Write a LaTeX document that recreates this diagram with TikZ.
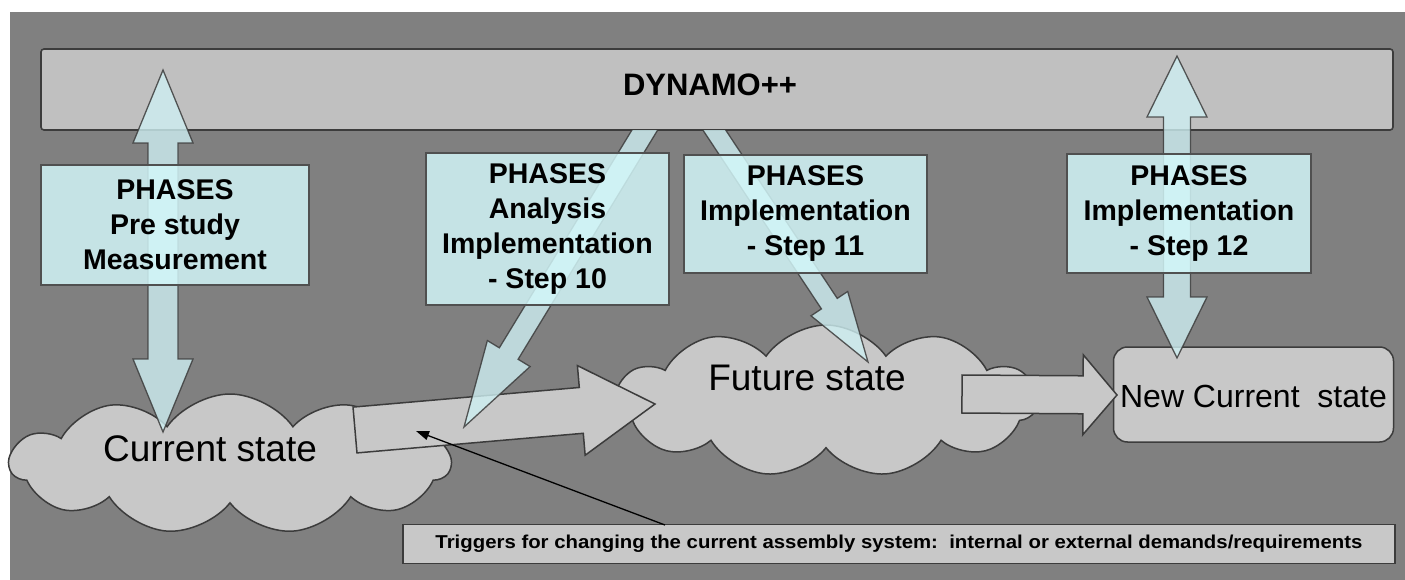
\documentclass[tikz,border=0pt]{standalone}
\usepackage{fontspec}
\setmainfont{Liberation Sans}
\usetikzlibrary{calc,shapes.symbols,arrows.meta}
\definecolor{bggray}{RGB}{128,128,128}
\definecolor{bargray}{RGB}{192,192,192}
\definecolor{cloudgray}{RGB}{200,200,200}
\definecolor{edgegray}{RGB}{60,60,60}
\definecolor{boxcyan}{RGB}{211,247,249}
\definecolor{arrcyan}{RGB}{206,239,242}
\newcommand\blockarrow[6]{%
  \coordinate (baC) at ($(#3)!#6!(#2)$);
  \path[#1] ($(#2)!#4!90:(#3)$) -- ($(baC)!#4!90:(#3)$) -- ($(baC)!#5!90:(#3)$) -- (#3)
    -- ($(baC)!#5!-90:(#3)$) -- ($(baC)!#4!-90:(#3)$) -- ($(#2)!#4!-90:(#3)$) -- cycle;}
\newcommand\dblarrow[6]{%
  \coordinate (daC) at ($(#3)!#6!(#2)$);
  \coordinate (daD) at ($(#2)!#6!(#3)$);
  \path[#1] (#2) -- ($(daD)!#5!90:(#3)$) -- ($(daD)!#4!90:(#3)$) -- ($(daC)!#4!90:(#3)$)
    -- ($(daC)!#5!90:(#3)$) -- (#3) -- ($(daC)!#5!-90:(#3)$) -- ($(daC)!#4!-90:(#3)$)
    -- ($(daD)!#4!-90:(#3)$) -- ($(daD)!#5!-90:(#3)$) -- cycle;}
\tikzset{
  bar/.style={draw=edgegray, line width=1.6pt, fill=bargray, rounded corners=3pt, inner sep=0pt},
  cloudnode/.style={cloud, cloud puffs=11, cloud puff arc=110, cloud ignores aspect,
    draw=edgegray, line width=1.5pt, fill=cloudgray, inner sep=0pt},
  statebox/.style={draw=edgegray, line width=1.5pt, fill=cloudgray, rounded corners=14pt, inner sep=0pt},
  phasebox/.style={draw=edgegray!90, line width=1.4pt, fill=boxcyan, fill opacity=0.84, text opacity=1,
    inner sep=0pt, align=center, font=\bfseries\fontsize{28.5}{35}\selectfont},
  cyanarrow/.style={draw=edgegray, line width=1.3pt, fill=arrcyan, fill opacity=0.8, draw opacity=0.85},
  grayarrow/.style={draw=edgegray, line width=1.5pt, fill=cloudgray},
  statetxt/.style={inner sep=0pt, font=\fontsize{37}{40}\selectfont},
  trigbox/.style={draw=edgegray, line width=1.6pt, fill=cloudgray, inner sep=0pt},
}
\begin{document}
\begin{tikzpicture}[x=1pt,y=-1pt]
\useasboundingbox (0,0) rectangle (1405,580);
\fill[white] (0,0) rectangle (1405,580);
\fill[bggray] (10,12) rectangle (1405,580);
% top bar
\node[bar, minimum width=1352pt, minimum height=81pt] (dyn) at (717,89.5) {};
\node[inner sep=0pt, font=\bfseries\fontsize{31}{35}\selectfont] (dyntxt) at (710,85) {DYNAMO++};
% clouds
\node[cloudnode, minimum width=440pt, minimum height=140pt] (curcloud) at (230,464) {};
\node[cloudnode, minimum width=422pt, minimum height=152pt] (futcloud) at (826,401) {};
\node[statebox, minimum width=280pt, minimum height=95pt] (newbox) at (1253.5,394.5) {};
% gray block arrows
\coordinate (g1a) at (355,430);
\coordinate (g1b) at (655,404);
\blockarrow{grayarrow}{g1a}{g1b}{23pt}{45pt}{74pt}
\coordinate (g2a) at (962,394);
\coordinate (g2b) at (1117,395);
\blockarrow{grayarrow}{g2a}{g2b}{19pt}{40pt}{34pt}
% state texts
\node[statetxt] (curtxt) at (210,448.5) {Current state};
\node[statetxt] (futtxt) at (807,377.5) {Future state};
\node[statetxt, font=\fontsize{32}{36}\selectfont] (newtxt) at (1253.5,396) {New Current~ state};
% cyan arrows
\coordinate (a1t) at (163,70);
\coordinate (a1b) at (163,432);
\dblarrow{cyanarrow}{a1t}{a1b}{15pt}{30pt}{73pt}
\coordinate (a4t) at (1177,56);
\coordinate (a4b) at (1177,358);
\dblarrow{cyanarrow}{a4t}{a4b}{13.5pt}{30pt}{61pt}
\begin{scope}
\clip (10,130.8) rectangle (1405,580);
\coordinate (a2s) at (657,110);
\coordinate (a2e) at (464,427);
\blockarrow{cyanarrow}{a2s}{a2e}{11pt}{25pt}{86pt}
\coordinate (a3s) at (701,110);
\coordinate (a3e) at (868,362);
\blockarrow{cyanarrow}{a3s}{a3e}{9.5pt}{22pt}{70pt}
\end{scope}
% phase boxes
\node[phasebox, minimum width=268pt, minimum height=120pt] (p1) at (175,225)
  {PHASES\\Pre study\\Measurement};
\node[phasebox, minimum width=243pt, minimum height=152pt] (p2) at (547.5,229)
  {PHASES\\Analysis\\Implementation\\- Step 10};
\node[phasebox, minimum width=243pt, minimum height=118pt] (p3) at (805.5,214)
  {PHASES\\Implementation\\- Step 11};
\node[phasebox, minimum width=244pt, minimum height=119pt] (p4) at (1189,213.5)
  {PHASES\\Implementation\\- Step 12};
% trigger box
\node[trigbox, minimum width=992pt, minimum height=39pt] (trig) at (899,544)
  {\resizebox{927pt}{13.5pt}{\bfseries Triggers for changing the current assembly system:\ \ internal or external demands/requirements}};
\coordinate (trigstart) at (665,525);
\coordinate (trigend) at (416,431);
\draw[line width=1.3pt, -{Triangle[length=13pt,width=9pt]}] (trigstart) -- (trigend);
\end{tikzpicture}
\end{document}
